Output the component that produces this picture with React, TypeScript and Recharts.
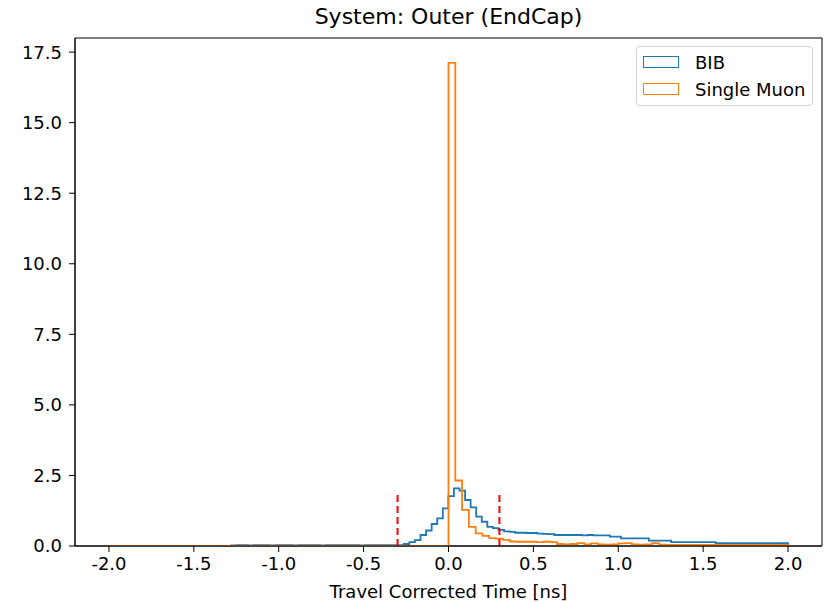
import { Legend, Line, LineChart, ReferenceArea, XAxis, YAxis } from 'recharts'

// histogram of BIB hits: 100 bins from -1.28 to 2.0
const BIB_START = -1.28
const BIB_WIDTH = 0.0328
const BIB_COUNTS = [
  0.02, 0.03, 0.03, 0.02, 0.03, 0.03, 0.03, 0.02, 0.03, 0.03,
  0.03, 0.02, 0.03, 0.03, 0.03, 0.03, 0.02, 0.03, 0.03, 0.03,
  0.03, 0.03, 0.03, 0.02, 0.03, 0.03, 0.03, 0.03, 0.03, 0.03,
  0.03, 0.07, 0.14, 0.21, 0.39, 0.55, 0.78, 0.98, 1.33, 1.77,
  2.04, 1.96, 1.63, 1.37, 1.04, 0.86, 0.68, 0.63, 0.57, 0.52,
  0.5, 0.47, 0.47, 0.46, 0.46, 0.44, 0.43, 0.42, 0.39, 0.39,
  0.39, 0.39, 0.39, 0.38, 0.39, 0.38, 0.38, 0.38, 0.33, 0.33,
  0.27, 0.27, 0.27, 0.27, 0.27, 0.19, 0.19, 0.19, 0.19, 0.14,
  0.14, 0.14, 0.14, 0.14, 0.14, 0.14, 0.14, 0.1, 0.1, 0.1,
  0.1, 0.1, 0.1, 0.1, 0.1, 0.1, 0.1, 0.1, 0.1, 0.1,
]

// histogram of single muon hits: 100 bins from -2.0 to 2.0
const MUON_START = -2
const MUON_WIDTH = 0.04
const MUON_COUNTS = [
  0, 0, 0, 0, 0, 0, 0, 0, 0, 0,
  0, 0, 0, 0, 0, 0, 0, 0, 0, 0,
  0, 0, 0, 0, 0, 0, 0, 0, 0, 0,
  0, 0, 0, 0, 0, 0, 0, 0, 0, 0,
  0, 0, 0, 0, 0, 0, 0, 0, 0, 0,
  17.12, 2.32, 1.28, 0.68, 0.45, 0.36, 0.28, 0.26, 0.22, 0.16,
  0.15, 0.15, 0.15, 0.14, 0.15, 0.14, 0.07, 0.06, 0.07, 0.1,
  0.06, 0.09, 0.06, 0.05, 0.06, 0.09, 0.1, 0.06, 0.05, 0.06,
  0.1, 0.05, 0.04, 0.04, 0.04, 0.04, 0.04, 0.04, 0.04, 0.04,
  0.04, 0.04, 0.04, 0.04, 0.04, 0.04, 0.04, 0.04, 0.04, 0.04,
]

const CUT_TIMES = [-0.3, 0.3]
const CUT_HEIGHT = 1.95

const X_TICKS = [-2, -1.5, -1, -0.5, 0, 0.5, 1, 1.5, 2]
const Y_TICKS = [0, 2.5, 5, 7.5, 10, 12.5, 15, 17.5]

const LEGEND_ITEMS = [
  { name: 'BIB', color: '#1f77b4' },
  { name: 'Single Muon', color: '#ff7f0e' },
]

const FONT = '"DejaVu Sans", sans-serif'

// outline of a step histogram, closed down to zero at both ends
function stepOutline(start: number, width: number, counts: number[]) {
  const pts = [{ x: start, y: 0 }]
  counts.forEach((c, i) => pts.push({ x: start + i * width, y: c }))
  const end = start + counts.length * width
  pts.push({ x: end, y: counts[counts.length - 1] })
  pts.push({ x: end, y: 0 })
  return pts
}

function HistLegend() {
  return (
    <div
      style={{
        border: '1px solid #d4d4d4',
        borderRadius: 4,
        background: '#fff',
        padding: '3px 0 4px 6px',
        fontFamily: FONT,
        fontSize: 18,
        color: '#000',
        boxSizing: 'border-box',
        width: 177,
        height: 60,
      }}
    >
      {LEGEND_ITEMS.map((item, i) => (
        <div
          key={item.name}
          style={{ display: 'flex', alignItems: 'center', height: 24, marginTop: i ? 3 : 0, whiteSpace: 'nowrap' }}
        >
          <span
            style={{
              width: 34,
              height: 10,
              border: `1.5px solid ${item.color}`,
              marginRight: 16,
              display: 'inline-block',
              flex: 'none',
            }}
          />
          <span>{item.name}</span>
        </div>
      ))}
    </div>
  )
}

export default function App() {
  const bib = stepOutline(BIB_START, BIB_WIDTH, BIB_COUNTS)
  const muon = stepOutline(MUON_START, MUON_WIDTH, MUON_COUNTS)

  return (
    <div style={{ position: 'absolute', left: 0, top: 0, width: 826, height: 603, fontFamily: FONT, background: '#fff' }}>
      <div
        style={{
          position: 'absolute',
          left: 75,
          width: 747,
          top: 4,
          textAlign: 'center',
          fontSize: 22,
          color: '#000',
        }}
      >
        System: Outer (EndCap)
      </div>
      <LineChart
        width={826}
        height={603}
        margin={{ top: 38, right: 4, bottom: 0, left: 0 }}
        style={{ fontFamily: FONT }}
      >
        <XAxis
          type="number"
          dataKey="x"
          domain={[-2.2, 2.2]}
          ticks={X_TICKS}
          allowDataOverflow
          allowDuplicatedCategory={false}
          tickFormatter={(v) => Number(v).toFixed(1)}
          tick={{ fontSize: 18, fill: '#000' }}
          tickSize={6}
          tickMargin={5}
          stroke="#000"
          height={57}
          label={{ value: 'Travel Corrected Time [ns]', position: 'insideBottom', offset: 5, fontSize: 18, fill: '#000' }}
        />
        <YAxis
          type="number"
          domain={[0, 18]}
          ticks={Y_TICKS}
          allowDataOverflow
          tickFormatter={(v) => Number(v).toFixed(1)}
          tick={{ fontSize: 18, fill: '#000' }}
          tickSize={6}
          tickMargin={7}
          stroke="#000"
          width={75}
        />
        <ReferenceArea x1={-2.2} x2={2.2} y1={0} y2={18} fill="none" stroke="#000" strokeWidth={1} />
        <Line
          data={bib}
          dataKey="y"
          type="stepAfter"
          stroke="#1f77b4"
          strokeWidth={1.8}
          dot={false}
          activeDot={false}
          isAnimationActive={false}
        />
        <Line
          data={muon}
          dataKey="y"
          type="stepAfter"
          stroke="#ff7f0e"
          strokeWidth={1.8}
          dot={false}
          activeDot={false}
          isAnimationActive={false}
        />
        {CUT_TIMES.map((t) => (
          <Line
            key={t}
            data={[{ x: t, y: 0 }, { x: t, y: CUT_HEIGHT }]}
            dataKey="y"
            type="linear"
            stroke="#ff0000"
            strokeWidth={2}
            strokeDasharray="7 4"
            dot={false}
            activeDot={false}
            isAnimationActive={false}
          />
        ))}
        <Legend
          layout="vertical"
          align="center"
          verticalAlign="middle"
          content={() => <HistLegend />}
          wrapperStyle={{ position: 'absolute', top: 46, left: 636, width: 177 }}
        />
      </LineChart>
    </div>
  )
}
